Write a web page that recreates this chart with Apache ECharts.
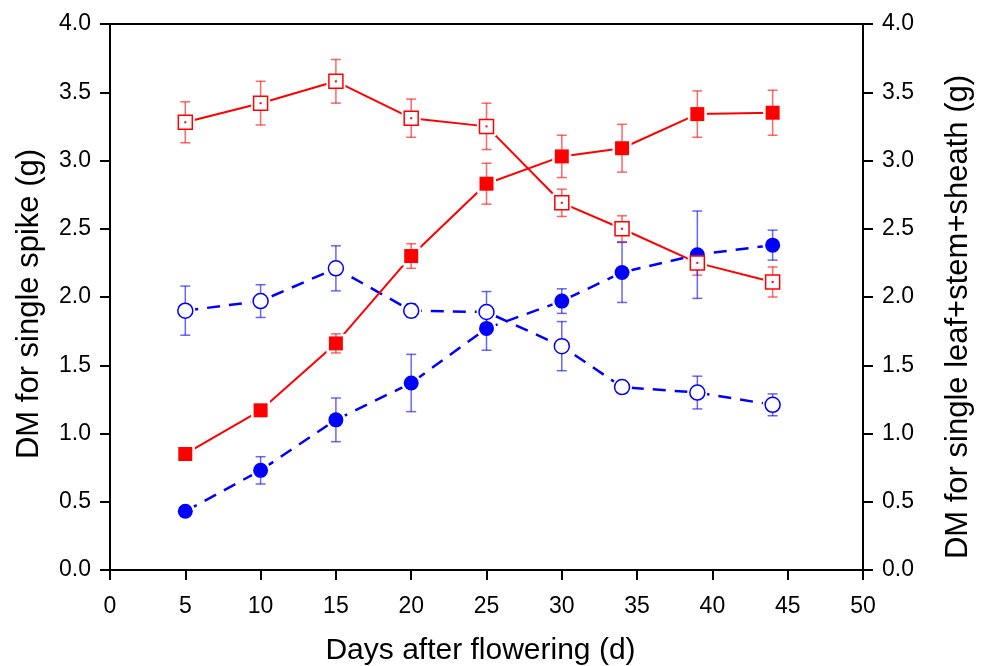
<!DOCTYPE html>
<html>
<head>
<meta charset="utf-8">
<script src="https://cdn.jsdelivr.net/npm/echarts@6/dist/echarts.min.js"></script>
<style>
  html, body { margin: 0; padding: 0; background: #fff; }
  #chart { width: 985px; height: 666px; }
</style>
</head>
<body>
<div id="chart"></div>
<script>
// days after flowering
const days = [5, 10, 15, 20, 25, 30, 34, 39, 44];
const xTicks = [0, 5, 10, 15, 20, 25, 30, 35, 40, 45, 50];

// spike DM (filled markers)
const spikeRed = [0.85, 1.17, 1.66, 2.30, 2.83, 3.03, 3.09, 3.34, 3.35];
const spikeRedErr = [0.0, 0.04, 0.07, 0.09, 0.15, 0.155, 0.175, 0.17, 0.165];
const spikeBlue = [0.43, 0.73, 1.10, 1.37, 1.77, 1.97, 2.18, 2.31, 2.38];
const spikeBlueErr = [0.0, 0.10, 0.16, 0.21, 0.16, 0.09, 0.22, 0.32, 0.11];

// leaf+stem+sheath DM (open markers)
const vegRed = [3.28, 3.42, 3.58, 3.31, 3.25, 2.69, 2.50, 2.25, 2.11];
const vegRedErr = [0.15, 0.16, 0.16, 0.14, 0.17, 0.10, 0.095, 0.09, 0.11];
const vegBlue = [1.90, 1.97, 2.21, 1.90, 1.89, 1.64, 1.34, 1.30, 1.21];
const vegBlueErr = [0.18, 0.12, 0.165, 0.05, 0.15, 0.18, 0.04, 0.12, 0.08];

const RED = '#ff0000';
const BLUE = '#0000ff';
const FONT = '"Liberation Sans", Arial, sans-serif';

function pairs(ys) {
    return days.map((d, i) => [d, ys[i]]);
}

function errData(ys, errs) {
    return days.map((d, i) => [d, ys[i] - errs[i], ys[i] + errs[i]]);
}

function errorBars(ys, errs, color, yAxisIndex) {
    return {
        type: 'custom',
        yAxisIndex: yAxisIndex,
        z: 3,
        silent: true,
        data: errData(ys, errs),
        renderItem(params, api) {
            const x = api.value(0);
            const lo = api.coord([x, api.value(1)]);
            const hi = api.coord([x, api.value(2)]);
            if (Math.abs(hi[1] - lo[1]) < 1) return null;
            const w = 5;
            const style = { stroke: color, lineWidth: 1.5, opacity: 0.6 };
            return {
                type: 'group',
                children: [
                    { type: 'line', shape: { x1: lo[0], y1: lo[1], x2: hi[0], y2: hi[1] }, style },
                    { type: 'line', shape: { x1: lo[0] - w, y1: lo[1], x2: lo[0] + w, y2: lo[1] }, style },
                    { type: 'line', shape: { x1: hi[0] - w, y1: hi[1], x2: hi[0] + w, y2: hi[1] }, style }
                ]
            };
        }
    };
}

function lineSeries(ys, color, dashed, yAxisIndex) {
    return {
        type: 'line',
        yAxisIndex: yAxisIndex,
        z: 2,
        data: pairs(ys),
        symbol: 'none',
        silent: true,
        lineStyle: { color: color, width: dashed ? 2.5 : 2, type: dashed ? [13, 9] : 'solid' }
    };
}

// white halo so lines stop just short of the markers
function haloSeries(ys, symbol, yAxisIndex) {
    return {
        type: 'scatter',
        yAxisIndex: yAxisIndex,
        z: 2.5,
        silent: true,
        data: pairs(ys),
        symbol: symbol,
        symbolSize: symbol === 'circle' ? 20 : 19,
        itemStyle: { color: '#fff', opacity: 1 }
    };
}

function markerSeries(ys, color, symbol, filled, yAxisIndex) {
    return {
        type: 'scatter',
        yAxisIndex: yAxisIndex,
        z: 4,
        silent: true,
        data: pairs(ys),
        symbol: symbol,
        symbolSize: symbol === 'circle' ? 15 : 14,
        itemStyle: filled
            ? { color: color, opacity: 1 }
            : { color: '#fff', borderColor: color, borderWidth: 1.5, opacity: 1 }
    };
}

const yAxisBase = {
    type: 'value',
    min: 0,
    max: 4,
    interval: 0.5,
    nameLocation: 'middle',
    nameRotate: 90,
    axisLine: { show: true, lineStyle: { color: '#000', width: 2 } },
    axisTick: { show: true, inside: false, length: 10, lineStyle: { color: '#000', width: 2 } },
    axisLabel: {
        fontSize: 23, color: '#000', fontFamily: FONT, margin: 19,
        formatter: v => v.toFixed(1)
    },
    splitLine: { show: false }
};

const option = {
    backgroundColor: '#fff',
    animation: false,
    grid: {
        left: 110, right: 122, top: 24, bottom: 96,
        outerBoundsMode: 'none',
        show: true, borderColor: '#000', borderWidth: 2, backgroundColor: 'transparent'
    },
    xAxis: {
        type: 'value',
        min: xTicks[0],
        max: xTicks[xTicks.length - 1],
        interval: 5,
        name: 'Days after flowering (d)',
        nameLocation: 'middle',
        nameGap: 66,
        nameTextStyle: { fontSize: 30, color: '#000', fontFamily: FONT, padding: [0, 12, 0, 0] },
        axisLine: { show: true, lineStyle: { color: '#000', width: 2 } },
        axisTick: { show: true, length: 10, lineStyle: { color: '#000', width: 2 } },
        axisLabel: { fontSize: 23, color: '#000', fontFamily: FONT, margin: 25 },
        splitLine: { show: false }
    },
    yAxis: [
        Object.assign({}, yAxisBase, {
            position: 'left',
            name: 'DM for single spike (g)',
            nameGap: 65,
            nameTextStyle: { fontSize: 31, color: '#000', fontFamily: FONT, padding: [0, 14, 0, 0] }
        }),
        Object.assign({}, yAxisBase, {
            position: 'right',
            name: 'DM for single leaf+stem+sheath (g)',
            nameGap: 80,
            nameTextStyle: { fontSize: 31, color: '#000', fontFamily: FONT, padding: [0, 40, 0, 0] }
        })
    ],
    series: [
        lineSeries(vegRed, RED, false, 1),
        lineSeries(vegBlue, BLUE, true, 1),
        lineSeries(spikeRed, RED, false, 0),
        lineSeries(spikeBlue, BLUE, true, 0),
        haloSeries(vegRed, 'rect', 1),
        haloSeries(vegBlue, 'circle', 1),
        haloSeries(spikeRed, 'rect', 0),
        haloSeries(spikeBlue, 'circle', 0),
        errorBars(vegRed, vegRedErr, RED, 1),
        errorBars(vegBlue, vegBlueErr, BLUE, 1),
        errorBars(spikeRed, spikeRedErr, RED, 0),
        errorBars(spikeBlue, spikeBlueErr, BLUE, 0),
        markerSeries(spikeBlue, BLUE, 'circle', true, 0),
        markerSeries(spikeRed, RED, 'rect', true, 0),
        markerSeries(vegBlue, BLUE, 'circle', false, 1),
        markerSeries(vegRed, RED, 'rect', false, 1),
        {
            // centre dot of the open squares
            type: 'scatter',
            yAxisIndex: 1,
            z: 5,
            silent: true,
            data: pairs(vegRed),
            symbol: 'rect',
            symbolSize: 2,
            itemStyle: { color: RED, opacity: 1 }
        }
    ]
};

const chart = echarts.init(document.getElementById('chart'));
chart.setOption(option);
</script>
</body>
</html>
